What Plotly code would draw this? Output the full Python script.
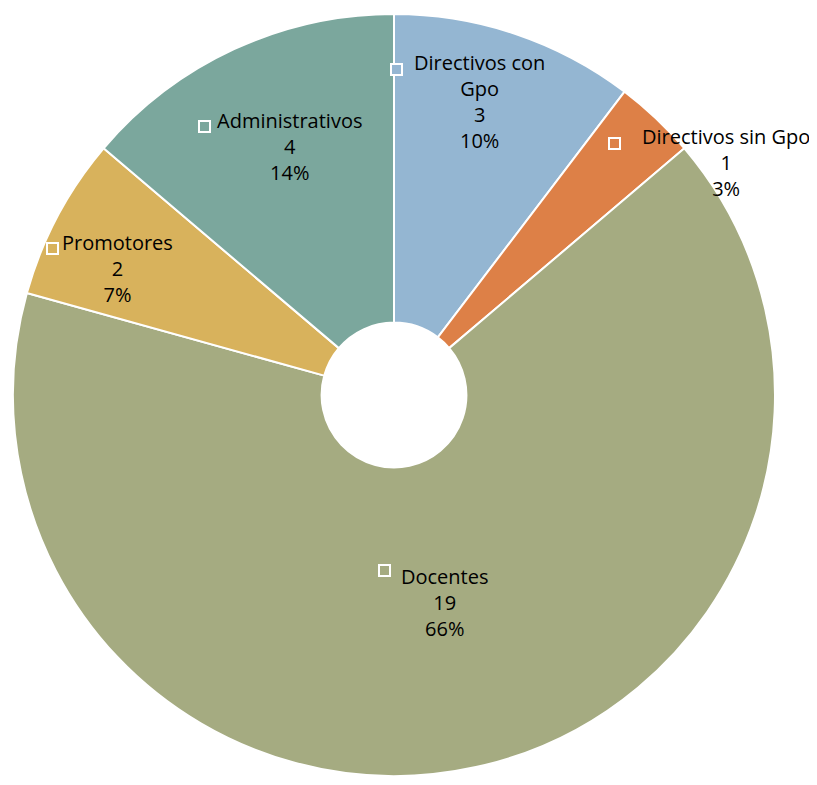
import plotly.graph_objects as go

# data
categories = ['Directivos con Gpo', 'Directivos sin Gpo', 'Docentes', 'Promotores', 'Administrativos']
values = [3, 1, 19, 2, 4]
colors = ['#94B6D2', '#DD8047', '#A5AB81', '#D8B25C', '#7BA79D']

# page body has an 8px margin, so the figure is drawn 8px in from the window edge
OFF = 8
W, H = 817 - 2 * OFF, 785 - 2 * OFF
total = sum(values)


def px(x, y):
    return (x - OFF) / W, 1 - (y - OFF) / H


fig = go.Figure()
x0, y1 = px(11, 14)
x1, y0 = px(777, 776)
fig.add_trace(go.Pie(
    labels=categories, values=values, sort=False, direction='clockwise', rotation=0,
    hole=0.19, textinfo='none', hoverinfo='label+value+percent',
    marker=dict(colors=colors, line=dict(color='white', width=2)),
    domain=dict(x=[x0, x1], y=[y0, y1]),
    showlegend=False,
))

# label block centre (px) and square marker centre (px) in window coords
label_pos = [(479, 101), (726, 162), (445, 602), (117, 268), (289, 146)]
square_pos = [(396, 63), (621, 137), (384, 577), (46, 242), (198, 120)]
line_text = ['Directivos con<br>Gpo', 'Directivos sin Gpo', 'Docentes', 'Promotores', 'Administrativos']

for name, v, c, lp, sp in zip(line_text, values, colors, label_pos, square_pos):
    pct = round(v / total * 100)
    lx, ly = px(*lp)
    sx, sy = px(*sp)
    fig.add_annotation(x=lx, y=ly, xref='paper', yref='paper',
                       text=f'{name}<br>{v}<br>{pct}%', showarrow=False,
                       xanchor='center', yanchor='middle', align='center',
                       font=dict(family='Open Sans', size=20, color='black'))
    fig.add_annotation(x=sx, y=sy, xref='paper', yref='paper',
                       text=' ', showarrow=False, width=9, height=9, borderpad=0,
                       bgcolor=c, bordercolor='white', borderwidth=2,
                       font=dict(size=6))

fig.update_layout(width=W, height=H, margin=dict(l=0, r=0, t=0, b=0),
                  paper_bgcolor='white', plot_bgcolor='white')
fig.write_html('out.html')
